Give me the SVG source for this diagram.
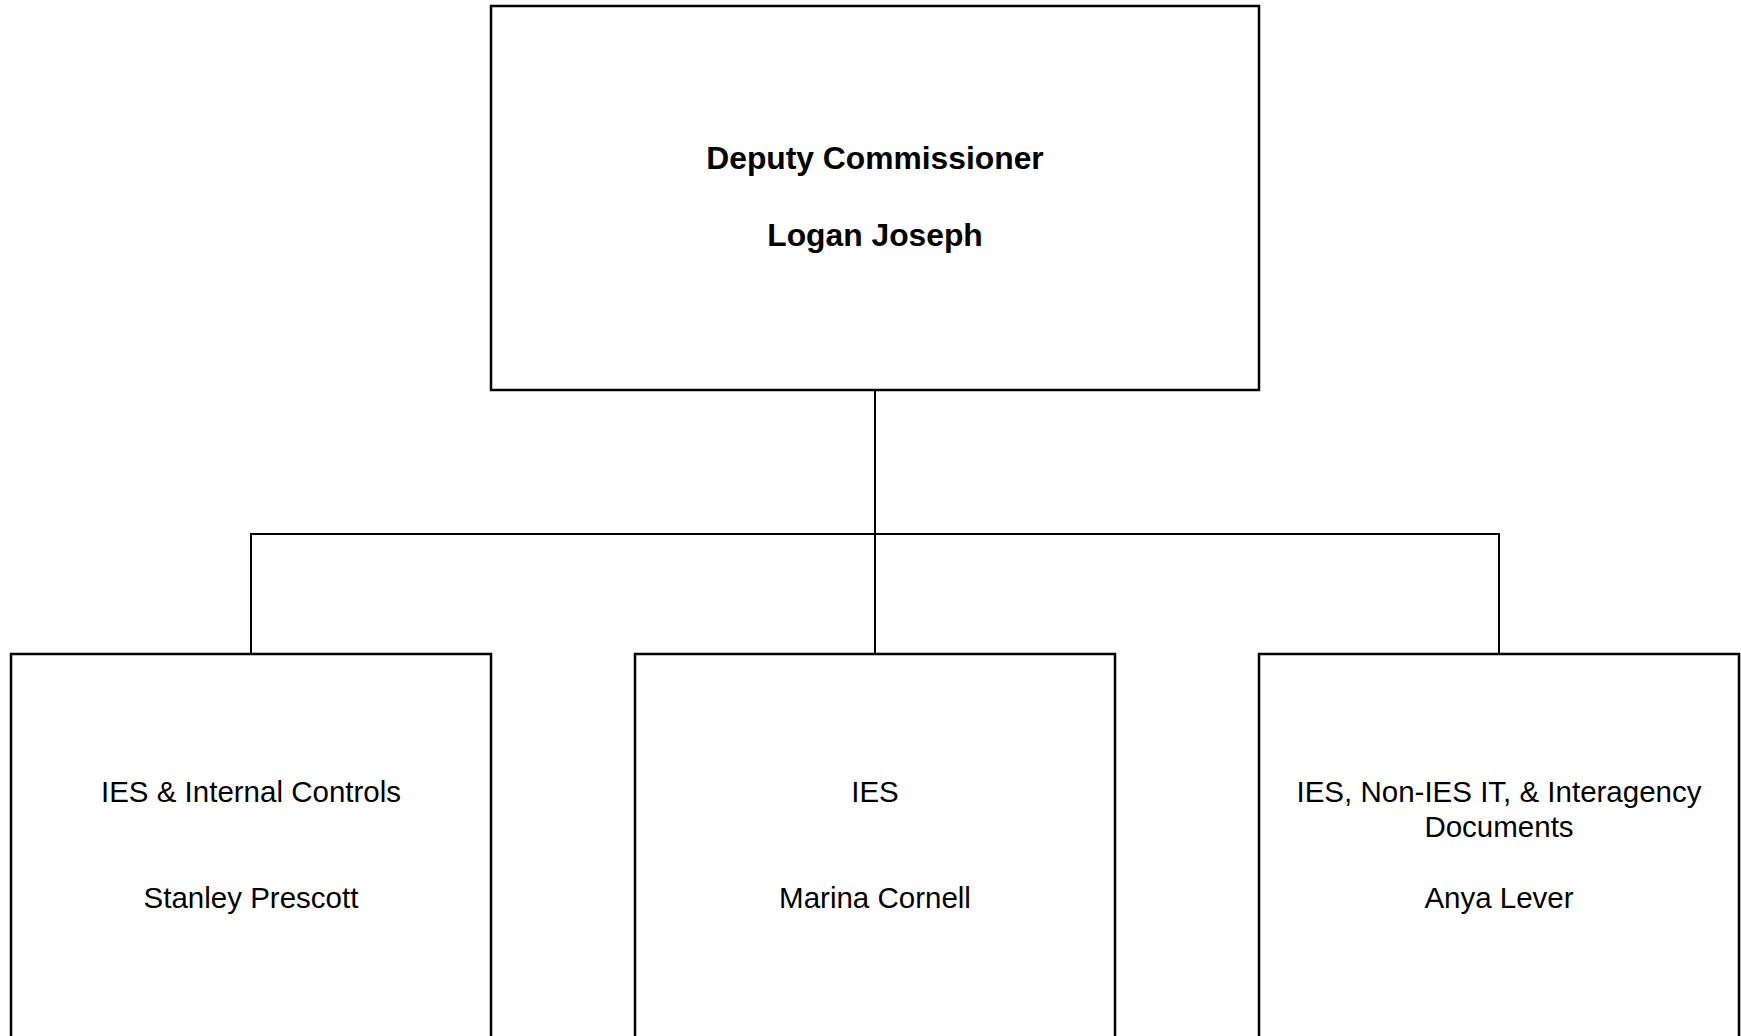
<svg xmlns="http://www.w3.org/2000/svg" width="1741" height="1036" viewBox="0 0 1741 1036">
<style>
.box{fill:#fff;stroke:#000;stroke-width:2.5}
.conn{fill:none;stroke:#000;stroke-width:2}
.t{font-family:"Liberation Sans",Arial,sans-serif;font-size:29.5px;text-anchor:middle;fill:#000}
.b{font-weight:bold;font-size:31.8px}
</style>
<rect width="1741" height="1036" fill="#fff"/>
<g id="connectors">
<line class="conn" x1="875" y1="390" x2="875" y2="654"/>
<polyline class="conn" points="251,654 251,534 1499,534 1499,654"/>
</g>
<g id="deputy-commissioner">
<rect class="box" x="491" y="6" width="768" height="384"/>
<text class="t b" x="875" y="169">Deputy Commissioner</text>
<text class="t b" x="875" y="246">Logan Joseph</text>
</g>
<g id="ies-internal-controls">
<rect class="box" x="11" y="654" width="480" height="400"/>
<text class="t" x="251" y="802">IES &amp; Internal Controls</text>
<text class="t" x="251" y="908">Stanley Prescott</text>
</g>
<g id="ies">
<rect class="box" x="635" y="654" width="480" height="400"/>
<text class="t" x="875" y="802">IES</text>
<text class="t" x="875" y="908">Marina Cornell</text>
</g>
<g id="ies-nonies-interagency">
<rect class="box" x="1259" y="654" width="480" height="400"/>
<text class="t" x="1499" y="802">IES, Non-IES IT, &amp; Interagency</text>
<text class="t" x="1499" y="837">Documents</text>
<text class="t" x="1499" y="908">Anya Lever</text>
</g>
</svg>
